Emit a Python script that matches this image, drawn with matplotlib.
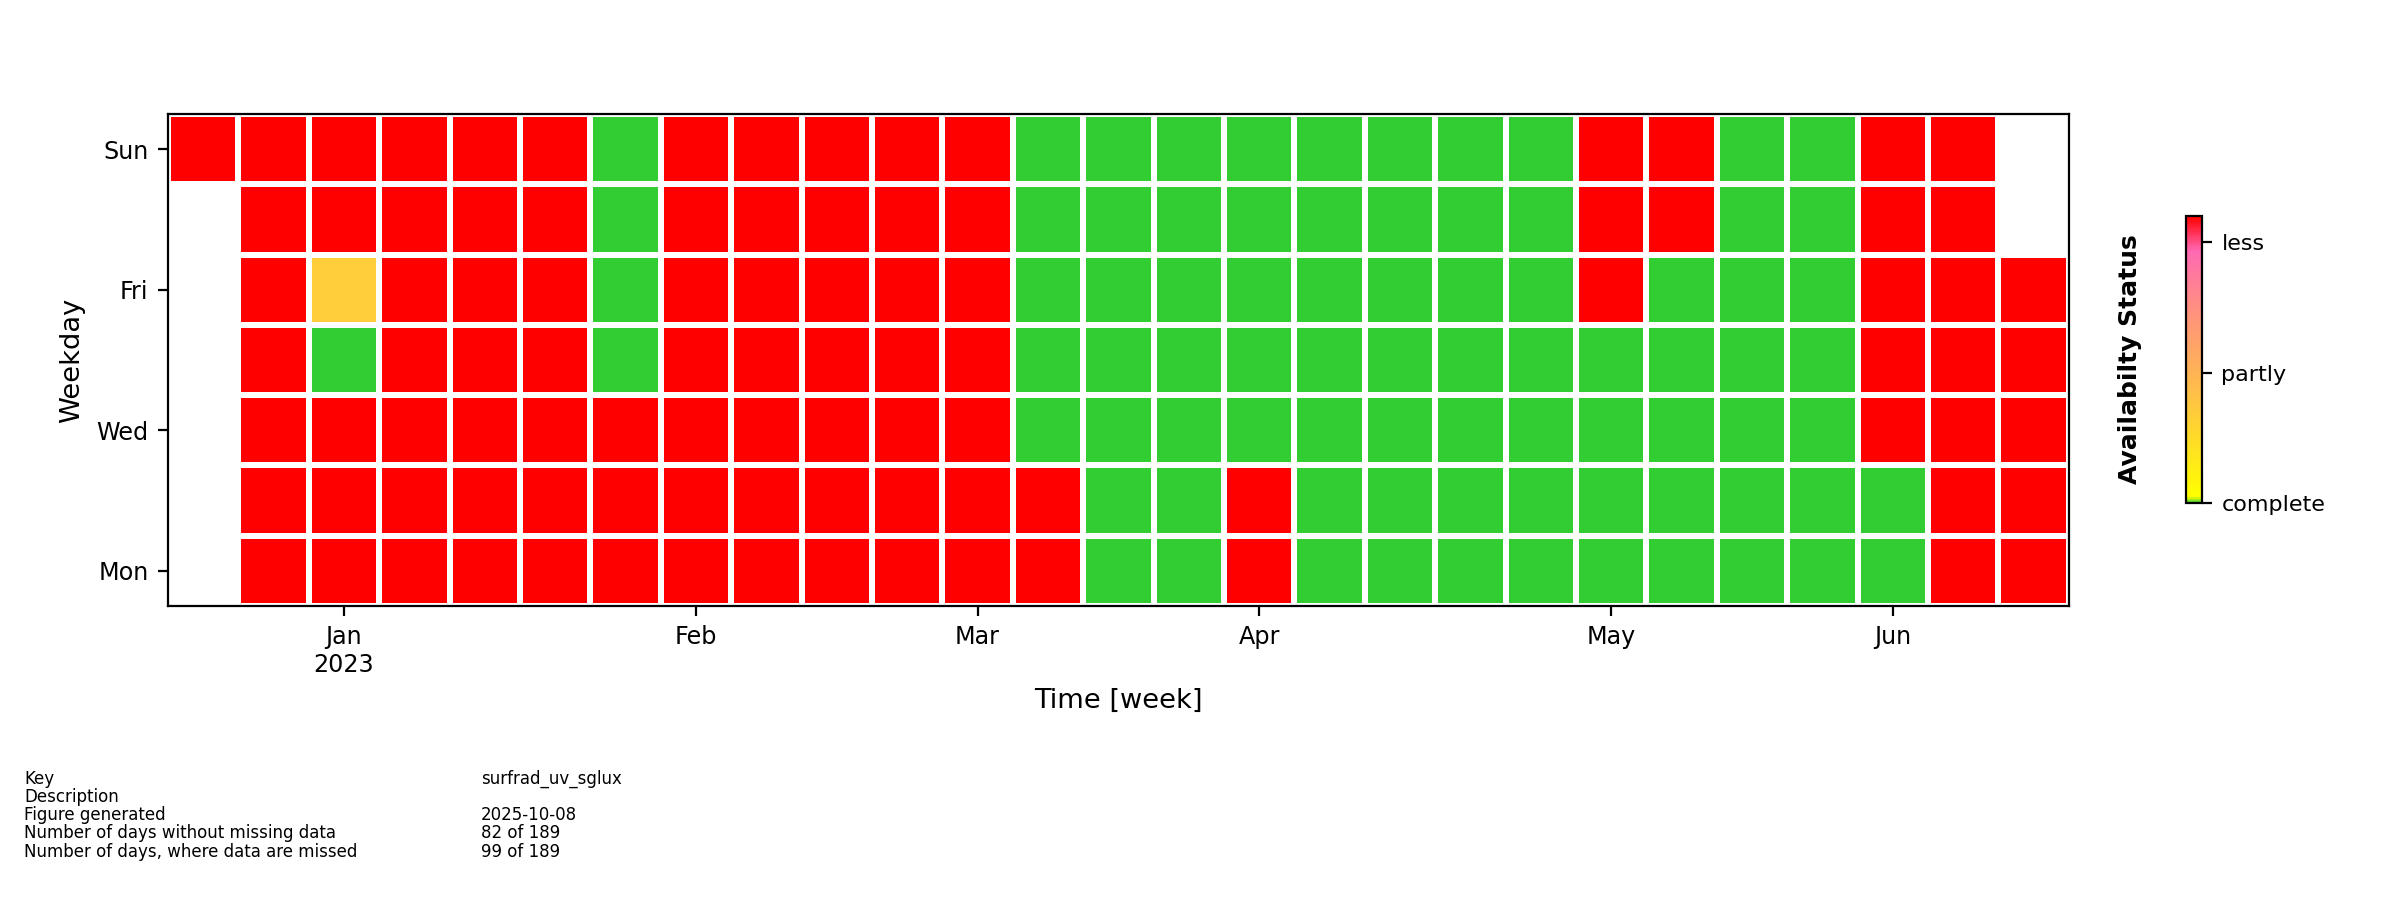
#!/usr/bin/env python3
"""Weekly data availability calendar for surfrad_uv_sglux."""

import numpy as np
import matplotlib
matplotlib.use('Agg')
import matplotlib.pyplot as plt
from matplotlib.colors import ListedColormap, BoundaryNorm, LinearSegmentedColormap, Normalize
from matplotlib.cm import ScalarMappable

# status per weekday across the 27 weekly columns
# C = complete, P = partly, M = missing, - = outside period
weekdays = ['Mon', 'Tue', 'Wed', 'Thu', 'Fri', 'Sat', 'Sun']
status_rows = {
    'Mon': '-MMMMMMMMMMMMCCMCCCCCCCCCMM',
    'Tue': '-MMMMMMMMMMMMCCMCCCCCCCCCMM',
    'Wed': '-MMMMMMMMMMMCCCCCCCCCCCCMMM',
    'Thu': '-MCMMMCMMMMMCCCCCCCCCCCCMMM',
    'Fri': '-MPMMMCMMMMMCCCCCCCCMCCCMMM',
    'Sat': '-MMMMMCMMMMMCCCCCCCCMMCCMM-',
    'Sun': 'MMMMMMCMMMMMCCCCCCCCMMCCMM-',
}
month_week_idx = [2, 7, 11, 15, 20, 24]
month_labels = ['Jan\n2023', 'Feb', 'Mar', 'Apr', 'May', 'Jun']
weekday_ticks = ['Mon', 'Wed', 'Fri', 'Sun']

info_keys = ['Key', 'Description', 'Figure generated',
             'Number of days without missing data',
             'Number of days, where data are missed']
info_values = ['surfrad_uv_sglux', '', '2025-10-08', '82 of 189', '99 of 189']

code = {'C': 0, 'P': 1, 'M': 2, '-': np.nan}
grid = np.array([[code[c] for c in status_rows[d]] for d in weekdays])
grid = np.ma.masked_invalid(grid)

fig = plt.figure(figsize=(12, 4.5), dpi=200)
ax = fig.add_axes([0.07, 0.3267, 0.792, 0.5466])

cell_cmap = ListedColormap(['#32CD32', '#FFCE3A', '#FF0000'])
cell_norm = BoundaryNorm([-0.5, 0.5, 1.5, 2.5], cell_cmap.N)
ax.pcolormesh(np.arange(grid.shape[1] + 1), np.arange(grid.shape[0] + 1), grid,
              cmap=cell_cmap, norm=cell_norm, edgecolors='white', linewidth=2)
ax.set_xlim(0, grid.shape[1])
ax.set_ylim(0, grid.shape[0])

ax.set_xticks(np.array(month_week_idx) + 0.5)
ax.set_xticklabels(month_labels)
ax.set_yticks([weekdays.index(d) + 0.5 for d in weekday_ticks])
ax.set_yticklabels(weekday_ticks)
ax.tick_params(labelsize=8.6)
ax.set_xlabel('Time [week]', fontsize=9.8)
ax.set_ylabel('Weekday', fontsize=9.8)

# colourbar
bar_cmap = LinearSegmentedColormap.from_list('avail', [
    (0.0, '#32CD32'), (0.02, '#FFFF00'), (0.45, '#FFB455'),
    (0.7, '#FF8C84'), (0.88, '#FF69B4'), (1.0, '#FF0000')])
cax = fig.add_axes([0.911, 0.441, 0.0065, 0.319])
sm = ScalarMappable(norm=Normalize(0, 1.1), cmap=bar_cmap)
cbar = fig.colorbar(sm, cax=cax, ticks=[0, 0.5, 1.0])
cbar.ax.set_yticklabels(['complete', 'partly', 'less'], fontsize=8)
cbar.ax.yaxis.set_label_position('left')
cbar.set_label('Availabilty Status', fontsize=9, fontweight='bold', labelpad=16)

# info block
for i, (k, v) in enumerate(zip(info_keys, info_values)):
    y = 0.1345 - i * 0.0202
    fig.text(0.0102, y, k, fontsize=6, va='center')
    fig.text(0.2004, y, v, fontsize=6, va='center')

fig.savefig('out.png', dpi=200)
